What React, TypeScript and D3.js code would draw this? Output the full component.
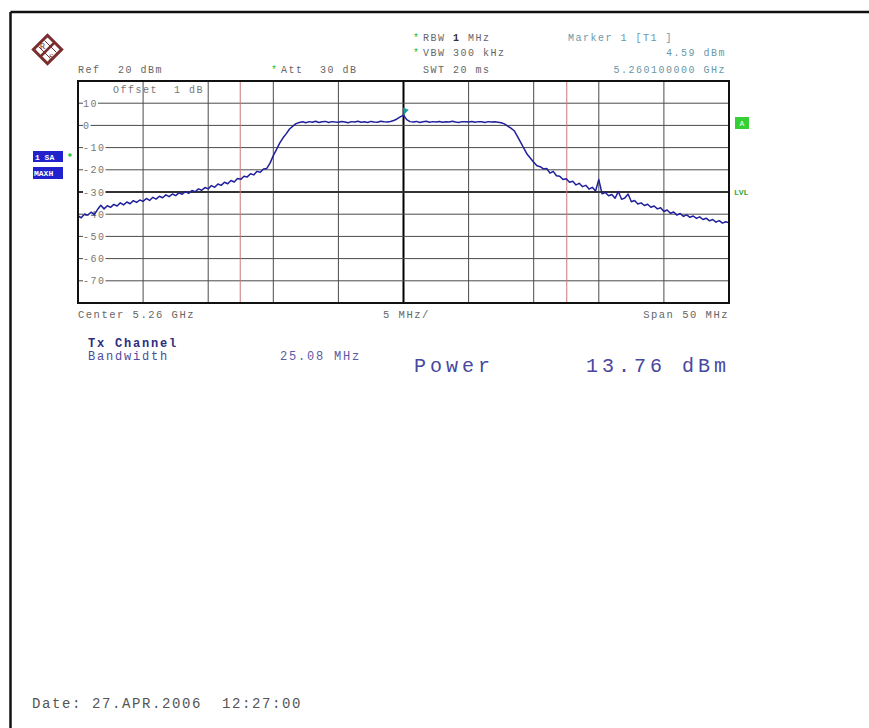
import React from "react";
import * as d3 from "d3";

const W = 869;
const H = 728;
const MONO = "'Liberation Mono', 'Courier New', monospace";

// sweep: -25 .. +25 MHz around 5.26 GHz, one reading every 0.25 MHz
const spanStartMHz = -25;
const spanEndMHz = 25;
const spanStepMHz = 0.25;

const traceDbm = [
  -40.8, -41.6, -39.9, -40.4, -39.1, -40.2, -37.9, -36.0, -37.6, -36.2, -36.9, -35.6, -36.3, -34.9, -35.8, -34.5, -35.3, -33.9, -34.7, -33.6,
  -34.2, -32.9, -33.8, -32.4, -33.2, -31.9, -32.6, -31.3, -32.1, -30.9, -31.6, -30.4, -31.0, -29.8, -30.6, -29.3, -29.9, -28.6, -29.2, -28.0,
  -28.6, -27.1, -27.9, -26.4, -27.0, -25.6, -26.3, -24.8, -25.5, -23.9, -24.3, -22.9, -23.2, -21.8, -22.3, -20.7, -21.1, -19.6, -19.4, -17.0,
  -13.6, -10.8, -7.9, -5.6, -3.7, -1.6, -0.3, 0.8, 1.3, 1.6, 1.2, 1.7, 1.4, 1.9, 1.3, 1.6, 1.8, 1.3, 1.7, 1.5,
  1.4, 1.8, 1.5, 1.2, 1.7, 1.5, 1.9, 1.4, 1.6, 1.3, 1.8, 1.5, 1.4, 1.9, 1.6, 1.5, 1.8, 2.2, 2.9, 3.8,
  4.59, 2.6, 1.7, 1.5, 1.8, 1.3, 1.6, 1.9, 1.4, 1.7, 1.5, 1.8, 1.4, 1.6, 1.5, 1.9, 1.5, 1.3, 1.7, 1.6,
  1.5, 1.8, 1.4, 1.7, 1.6, 1.3, 1.7, 1.5, 1.6, 1.4, 1.2, 0.7, -0.3, -1.2, -2.4, -4.9, -7.6, -10.4, -13.0, -14.8,
  -16.6, -18.2, -18.6, -19.6, -19.4, -21.5, -20.7, -22.7, -22.9, -24.4, -24.0, -25.6, -25.2, -26.8, -26.1, -27.6, -27.0, -28.7, -27.9, -29.6,
  -24.4, -30.8, -30.2, -31.7, -31.1, -32.8, -29.8, -33.3, -32.7, -30.9, -34.4, -33.8, -35.4, -34.9, -36.1, -35.5, -36.9, -36.3, -37.6, -37.1,
  -38.8, -38.1, -39.6, -39.0, -40.4, -39.7, -41.0, -40.3, -41.4, -40.8, -41.9, -41.2, -42.4, -41.8, -43.0, -42.4, -43.6, -42.9, -44.0, -43.4, -43.9,
];

const refLevelDbm = 20;
const bottomLevelDbm = -80;
const levelTicks = [10, 0, -10, -20, -30, -40, -50, -60, -70];
const freqGridMHz = [-20, -15, -10, -5, 0, 5, 10, 15, 20];
const channelEdgesMHz = [-12.54, 12.54];
const displayLineDbm = -30;
const markerMHz = 0;
const markerDbm = 4.59;

// plot box on the page
const plot = { left: 78, right: 729, top: 81, bottom: 303 };

const small = { fontFamily: MONO, fontSize: 10, letterSpacing: 1.5 } as const;

export default function App() {
  const x = d3.scaleLinear().domain([spanStartMHz, spanEndMHz]).range([plot.left, plot.right]);
  const y = d3.scaleLinear().domain([bottomLevelDbm, refLevelDbm]).range([plot.bottom, plot.top]);

  const tracePath = d3
    .line<number>()
    .x((_, i) => x(spanStartMHz + i * spanStepMHz))
    .y((d) => y(d))(traceDbm);

  const mx = x(markerMHz);
  const my = y(markerDbm);

  return (
    <svg
      width={W}
      height={H}
      style={{ position: "absolute", left: 0, top: 0, background: "#fff" }}
    >
      {/* page frame */}
      <line x1={10.5} y1={12} x2={W} y2={12} stroke="#111" strokeWidth={2.5} />
      <line x1={10.5} y1={12} x2={10.5} y2={H} stroke="#111" strokeWidth={2.5} />

      {/* R&S logo */}
      <g transform="translate(47.5,49.5)">
        <rect x={-10} y={-10} width={20} height={20} transform="rotate(45)" fill="#fff" stroke="#7a2e2e" strokeWidth={3} />
        <line x1={7} y1={-7} x2={-7} y2={7} stroke="#7a2e2e" strokeWidth={2.5} />
        <line x1={-3} y1={-9} x2={9} y2={3} stroke="#7a2e2e" strokeWidth={1} />
        <line x1={-9} y1={-3} x2={3} y2={9} stroke="#7a2e2e" strokeWidth={1} />
        <text x={-5} y={-1} fontSize={9} fontFamily="Liberation Serif, serif" fill="#7a2e2e" textAnchor="middle">R</text>
        <text x={4} y={10} fontSize={9} fontFamily="Liberation Serif, serif" fill="#7a2e2e" textAnchor="middle">S</text>
      </g>

      {/* header */}
      <g {...small} fill="#666">
        <text x={78} y={73}>Ref</text>
        <text x={118} y={73}>20 dBm</text>
        <text x={271} y={73} fill="#3b3" letterSpacing={0}>*</text>
        <text x={281} y={73}>Att</text>
        <text x={320} y={73}>30 dB</text>

        <text x={413} y={41} fill="#3b3" letterSpacing={0}>*</text>
        <text x={423} y={41}>
          RBW <tspan fontWeight="bold" fill="#333">1</tspan> MHz
        </text>
        <text x={413} y={56} fill="#3b3" letterSpacing={0}>*</text>
        <text x={423} y={56}>VBW 300 kHz</text>
        <text x={423} y={73}>SWT 20 ms</text>

        <g fill="#6b97a6">
          <text x={568} y={41}>Marker 1 [T1 ]</text>
          <text x={726} y={56} textAnchor="end">4.59 dBm</text>
          <text x={726} y={73} textAnchor="end">5.260100000 GHz</text>
        </g>
      </g>

      {/* trace mode badges */}
      <rect x={33} y={151} width={30} height={11} fill="#2222cc" />
      <text x={35} y={160} fontFamily={MONO} fontSize={8} fontWeight="bold" fill="#fff">1 SA</text>
      <rect x={33} y={167} width={30} height={12} fill="#2222cc" />
      <text x={34} y={176} fontFamily={MONO} fontSize={8} fontWeight="bold" fill="#fff">MAXH</text>
      <circle cx={70} cy={155} r={1.8} fill="#3c3" />

      <rect x={735} y={117} width={14} height={12} fill="#35d035" />
      <text x={742} y={126} fontFamily={MONO} fontSize={8} fill="#e8ffe8" textAnchor="middle">A</text>
      <text x={734} y={195} fontFamily={MONO} fontSize={8} fontWeight="bold" fill="#3a3">LVL</text>

      {/* grid */}
      <g stroke="#4a4a4a" strokeWidth={1}>
        {freqGridMHz.map((f) => (
          <line key={f} x1={x(f)} x2={x(f)} y1={plot.top} y2={plot.bottom}
            stroke={f === 0 ? "#000" : "#4a4a4a"} strokeWidth={f === 0 ? 2 : 1} />
        ))}
        {levelTicks.map((t) => (
          <line key={t} x1={plot.left} x2={plot.right} y1={y(t)} y2={y(t)}
            strokeWidth={t === displayLineDbm ? 2 : 1} stroke={t === displayLineDbm ? "#333" : "#4a4a4a"} />
        ))}
      </g>
      {channelEdgesMHz.map((f) => (
        <line key={f} x1={x(f)} x2={x(f)} y1={plot.top} y2={plot.bottom} stroke="#c87878" strokeWidth={1} />
      ))}

      {/* level labels sit on the grid lines */}
      {levelTicks.map((t) => {
        const label = String(t);
        return (
          <g key={t}>
            <rect x={83} y={y(t) - 5} width={label.length * 7.5} height={10} fill="#fff" />
            <text x={83} y={y(t) + 3.5} {...small} fill="#777">{label}</text>
          </g>
        );
      })}

      <text x={113} y={93} {...small} fill="#777">Offset</text>
      <text x={174} y={93} {...small} fill="#777">1 dB</text>

      {/* trace */}
      <path d={tracePath ?? ""} fill="none" stroke="#20209c" strokeWidth={1.5} strokeLinejoin="round" />

      {/* marker 1 */}
      <path d={`M${mx},${my} l-3,-7 l6,0 z`} transform={`rotate(20 ${mx} ${my})`} fill="#1e9c9c" />

      {/* plot border */}
      <rect x={plot.left} y={plot.top} width={plot.right - plot.left} height={plot.bottom - plot.top}
        fill="none" stroke="#111" strokeWidth={2} />

      {/* axis footer */}
      <g fontFamily={MONO} fontSize={10.5} letterSpacing={1.5} fill="#666">
        <text x={78} y={318}>Center 5.26 GHz</text>
        <text x={383} y={318}>5 MHz/</text>
        <text x={729} y={318} textAnchor="end">Span 50 MHz</text>
      </g>

      {/* channel power result */}
      <g fontFamily={MONO} fontSize={12} letterSpacing={1.8}>
        <text x={88} y={347} fontWeight="bold" fill="#2e2e80">Tx Channel</text>
        <text x={88} y={360} fill="#4c4c9c">Bandwidth</text>
        <text x={280} y={360} fill="#5a5aa4">25.08 MHz</text>
      </g>
      <g fontFamily={MONO} fontSize={20} letterSpacing={4} fill="#4848a0">
        <text x={414} y={372}>Power</text>
        <text x={586} y={372}>13.76 dBm</text>
      </g>

      <text x={32} y={708} fontFamily={MONO} fontSize={14} letterSpacing={1.6} fill="#555"
        style={{ whiteSpace: "pre" }}>
        {"Date: 27.APR.2006  12:27:00"}
      </text>
    </svg>
  );
}
